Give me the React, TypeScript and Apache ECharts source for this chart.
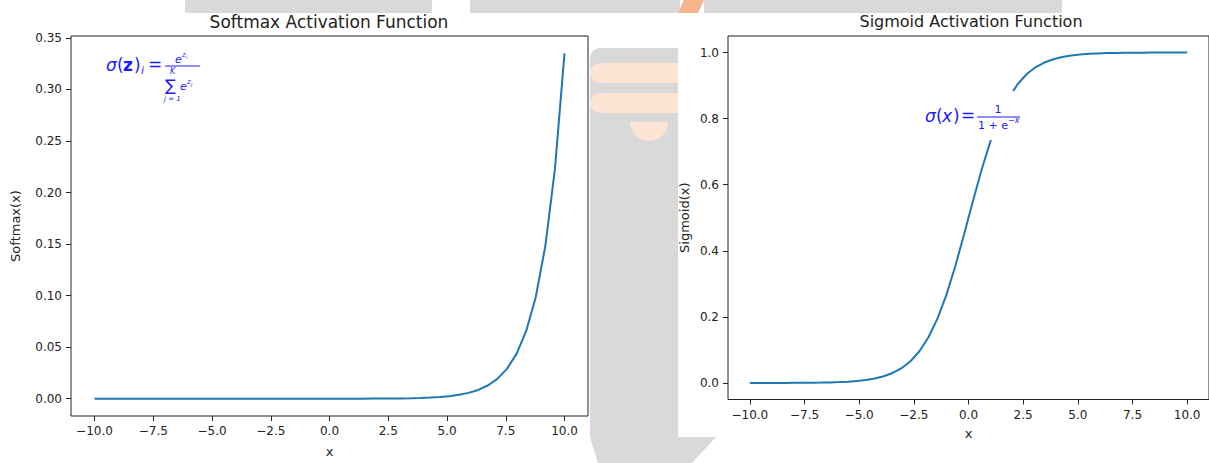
import React, { useEffect, useRef } from "react";
import * as echarts from "echarts";

const xValues = [
  -10, -9.592, -9.184, -8.776, -8.367, -7.959, -7.551, -7.143, -6.735, -6.327,
  -5.918, -5.51, -5.102, -4.694, -4.286, -3.878, -3.469, -3.061, -2.653, -2.245,
  -1.837, -1.429, -1.02, -0.612, -0.204, 0.204, 0.612, 1.02, 1.429, 1.837,
  2.245, 2.653, 3.061, 3.469, 3.878, 4.286, 4.694, 5.102, 5.51, 5.918,
  6.327, 6.735, 7.143, 7.551, 7.959, 8.367, 8.776, 9.184, 9.592, 10,
];

const softmaxValues = [
  0, 0, 0, 0, 0, 0, 0, 0, 0, 0,
  0, 0, 0, 0, 0, 0, 0, 0, 0, 0,
  0, 0, 0.00001, 0.00001, 0.00001, 0.00002, 0.00003, 0.00004, 0.00006, 0.0001,
  0.00014, 0.00022, 0.00032, 0.00049, 0.00074, 0.00111, 0.00166, 0.0025, 0.00376, 0.00566,
  0.00851, 0.0128, 0.01925, 0.02895, 0.04354, 0.06549, 0.0985, 0.14815, 0.22282, 0.33513,
];

const sigmoidValues = [
  0.00005, 0.00007, 0.0001, 0.00015, 0.00023, 0.00035, 0.00052, 0.00079, 0.00119, 0.00178,
  0.00268, 0.00402, 0.00604, 0.00906, 0.01358, 0.02029, 0.03021, 0.04478, 0.06588, 0.09594,
  0.13744, 0.19333, 0.26497, 0.35156, 0.44915, 0.55085, 0.64844, 0.73503, 0.80667, 0.86256,
  0.90406, 0.93412, 0.95522, 0.96979, 0.97971, 0.98642, 0.99094, 0.99396, 0.99598, 0.99732,
  0.99822, 0.99881, 0.99921, 0.99948, 0.99965, 0.99977, 0.99985, 0.9999, 0.99993, 0.99995,
];

const xTicks = [-10, -7.5, -5, -2.5, 0, 2.5, 5, 7.5, 10];
const softmaxTicks = [0, 0.05, 0.1, 0.15, 0.2, 0.25, 0.3, 0.35];
const sigmoidTicks = [0, 0.2, 0.4, 0.6, 0.8, 1.0];
const titles = ["Softmax Activation Function", "Sigmoid Activation Function"];
const yNames = ["Softmax(x)", "Sigmoid(x)"];
const xName = "x";

const FONT = "DejaVu Sans";
const INK = "#222";
const LINE = "#1f77b4";
const BLUE = "#1a1aff";

const fmt = (d: number) => (v: number) =>
  (v < -1e-9 ? "\u2212" : "") + Math.abs(v).toFixed(d);

function pair(xs: number[], ys: number[]) {
  return xs.map((x, i) => [x, ys[i]]);
}

function txt(
  text: string,
  x: number,
  y: number,
  size: number,
  opts: any = {}
) {
  return {
    type: "text",
    x,
    y,
    z: 101,
    style: {
      text,
      fill: BLUE,
      fontSize: size,
      fontFamily: FONT,
      fontStyle: opts.italic ? "italic" : "normal",
      fontWeight: opts.bold ? "bold" : "normal",
      verticalAlign: "middle",
      align: opts.align || "left",
    },
  };
}

export default function App() {
  const ref = useRef<HTMLDivElement>(null);

  useEffect(() => {
    document.body.style.margin = "0";
    if (!ref.current) return;
    const chart = echarts.init(ref.current, null, { renderer: "svg" });

    const xAxisCommon = (gridIndex: number, nameGap: number) => ({
      type: "value",
      gridIndex,
      min: -11,
      max: 11,
      name: xName,
      nameLocation: "middle",
      nameGap,
      nameTextStyle: { fontSize: 13, fontFamily: FONT, color: INK },
      axisLine: { show: false, onZero: false },
      splitLine: { show: false },
      axisTick: {
        show: true,
        customValues: xTicks,
        length: 5,
        lineStyle: { color: INK, width: 1 },
      },
      axisLabel: {
        customValues: xTicks,
        formatter: fmt(1),
        margin: 9,
        fontSize: 12,
        fontFamily: FONT,
        color: INK,
      },
    });

    const yAxisCommon = (
      gridIndex: number,
      min: number,
      max: number,
      ticks: number[],
      dec: number,
      name: string,
      nameGap: number
    ) => ({
      type: "value",
      gridIndex,
      min,
      max,
      name,
      nameLocation: "middle",
      nameGap,
      nameRotate: 90,
      nameTextStyle: { fontSize: 13, fontFamily: FONT, color: INK },
      axisLine: { show: false, onZero: false },
      splitLine: { show: false },
      axisTick: {
        show: true,
        customValues: ticks,
        length: 5,
        lineStyle: { color: INK, width: 1 },
      },
      axisLabel: {
        customValues: ticks,
        formatter: fmt(dec),
        margin: 9,
        fontSize: 12,
        fontFamily: FONT,
        color: INK,
      },
    });

    const grey = "#d9d9d9";
    const peach = "#fde4d4";

    const watermark = [
      { type: "rect", z: -5, shape: { x: 185, y: 0, width: 247, height: 13 }, style: { fill: grey } },
      { type: "rect", z: -5, shape: { x: 470, y: 0, width: 210, height: 13 }, style: { fill: grey } },
      { type: "polygon", z: -5, shape: { points: [[684, 0], [704, 0], [698, 13], [678, 13]] }, style: { fill: "#f5b48a" } },
      { type: "rect", z: -5, shape: { x: 704, y: 0, width: 358, height: 13 }, style: { fill: grey } },
      { type: "rect", z: -5, shape: { x: 590, y: 48, width: 88, height: 389, r: [10, 0, 0, 0] }, style: { fill: grey } },
      { type: "rect", z: -4, shape: { x: 590, y: 63, width: 88, height: 20, r: [10, 0, 0, 10] }, style: { fill: peach } },
      { type: "rect", z: -4, shape: { x: 590, y: 93, width: 88, height: 20, r: [10, 0, 0, 10] }, style: { fill: peach } },
      { type: "sector", z: -4, shape: { cx: 649, cy: 122, r: 19, startAngle: 0, endAngle: Math.PI }, style: { fill: peach } },
      { type: "polygon", z: -5, shape: { points: [[590, 437], [716, 437], [692, 463], [598, 463]] }, style: { fill: grey } },
    ];

    const formulaLeft = [
      txt("\u03c3", 106, 65, 17, { italic: true }),
      txt("(", 117, 65, 17),
      txt("z", 123, 65, 17, { bold: true }),
      txt(")", 134, 65, 17),
      txt("i", 141, 70, 11, { italic: true }),
      txt("=", 148, 64, 17),
      { type: "line", z: 101, shape: { x1: 165, y1: 66, x2: 200, y2: 66 }, style: { stroke: BLUE, lineWidth: 1 } },
      txt("e", 175, 59, 11, { italic: true }),
      txt("z", 182, 55, 7, { italic: true }),
      txt("i", 186, 57, 5, { italic: true }),
      txt("K", 170, 71, 8, { italic: true }),
      txt("\u2211", 165, 85, 16),
      txt("e", 180, 86, 11, { italic: true }),
      txt("z", 187, 82, 7, { italic: true }),
      txt("j", 191, 84, 5, { italic: true }),
      txt("j = 1", 164, 99, 7, { italic: true }),
    ];

    const formulaRight = [
      { type: "rect", z: 100, shape: { x: 914, y: 91, width: 118, height: 49 }, style: { fill: "#fff" } },
      txt("\u03c3", 925, 116, 17, { italic: true }),
      txt("(", 936, 116, 17),
      txt("x", 942, 116, 17, { italic: true }),
      txt(")", 953, 116, 17),
      txt("=", 961, 115, 17),
      { type: "line", z: 101, shape: { x1: 977, y1: 117, x2: 1020, y2: 117 }, style: { stroke: BLUE, lineWidth: 1 } },
      txt("1", 998, 109, 11, { align: "center" }),
      txt("1 + e", 978, 125, 11),
      txt("\u2212x", 1008, 120, 8, { italic: true }),
    ];

    chart.setOption({
      animation: false,
      backgroundColor: "#fff",
      title: [
        {
          text: titles[0],
          left: 329,
          top: 13,
          textAlign: "center",
          padding: 0,
          textStyle: { fontSize: 17, fontWeight: "normal", fontFamily: FONT, color: INK },
        },
        {
          text: titles[1],
          left: 971,
          top: 13,
          textAlign: "center",
          padding: 0,
          textStyle: { fontSize: 16, fontWeight: "normal", fontFamily: FONT, color: INK },
        },
      ],
      grid: [
        { left: 71, top: 36, width: 517, height: 386, show: true, borderColor: INK, borderWidth: 1, backgroundColor: "#fff" },
        { left: 728, top: 36, width: 487, height: 363.5, show: true, borderColor: INK, borderWidth: 1, backgroundColor: "#fff" },
      ],
      xAxis: [xAxisCommon(0, 29), xAxisCommon(1, 27)],
      yAxis: [
        yAxisCommon(0, -0.01676, 0.35189, softmaxTicks, 2, yNames[0], 49),
        yAxisCommon(1, -0.05, 1.05, sigmoidTicks, 1, yNames[1], 37),
      ],
      series: [
        {
          type: "line",
          xAxisIndex: 0,
          yAxisIndex: 0,
          data: pair(xValues, softmaxValues),
          showSymbol: false,
          lineStyle: { color: LINE, width: 2 },
          itemStyle: { color: LINE },
        },
        {
          type: "line",
          xAxisIndex: 1,
          yAxisIndex: 1,
          data: pair(xValues, sigmoidValues),
          showSymbol: false,
          lineStyle: { color: LINE, width: 2 },
          itemStyle: { color: LINE },
        },
      ],
      graphic: [...watermark, ...formulaLeft, ...formulaRight],
    });

    return () => {
      chart.dispose();
    };
  }, []);

  return <div ref={ref} style={{ width: 1209, height: 463 }} />;
}
